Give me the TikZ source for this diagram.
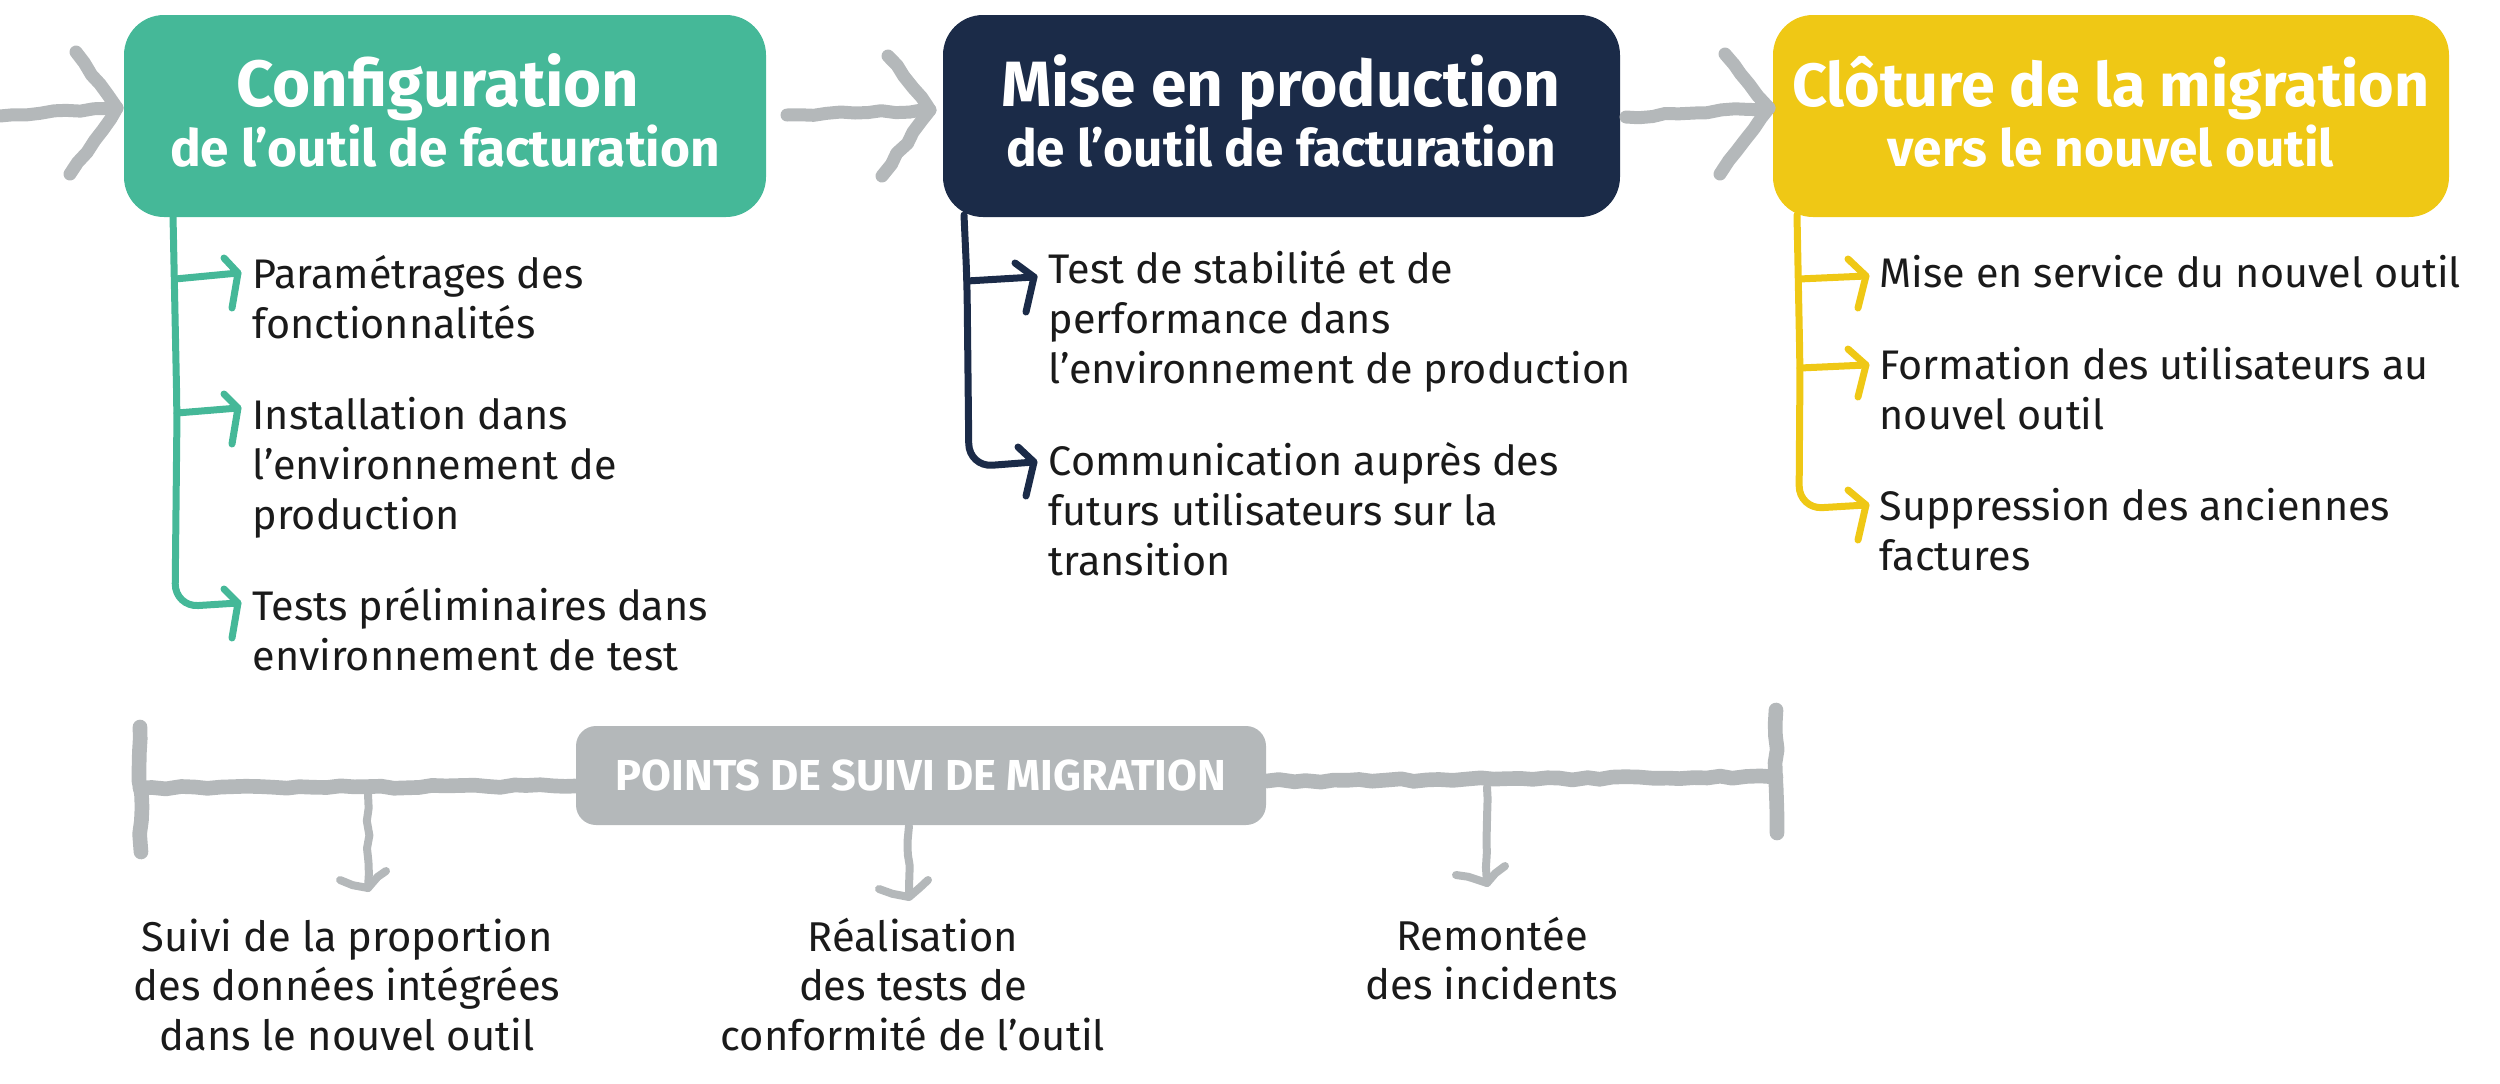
\documentclass[tikz,border=0pt]{standalone}
\usepackage{fontspec}
\setmainfont{Fira Sans}
\usetikzlibrary{decorations.pathmorphing}
\definecolor{cgreen}{HTML}{45B898}
\definecolor{cnavy}{HTML}{1B2B48}
\definecolor{cyellow}{HTML}{EFC815}
\definecolor{cgray}{HTML}{B4B8BA}
\definecolor{ink}{HTML}{1A1A1A}
\begin{document}
\begin{tikzpicture}[x=0.3pt,y=-0.3pt,
  phasebox/.style={rectangle, rounded corners=12pt, inner sep=0pt, minimum height=60.6pt},
  headA/.style={font=\fontsize{19.6}{24}\selectfont\bfseries, text=white, inner sep=0pt, anchor=base},
  headB/.style={font=\fontsize{15.4}{19}\selectfont\bfseries, text=white, inner sep=0pt, anchor=base},
  itemtext/.style={font=\fontsize{12.4}{15}\selectfont, text=ink, inner sep=0pt, anchor=base west},
  lowtext/.style={font=\fontsize{12.5}{14.9}\selectfont, text=ink, inner sep=0pt, anchor=base},
  roughline/.style={line cap=round, line join=round, decorate,
     decoration={random steps, segment length=4pt, amplitude=0.45pt}},
  grayarrow/.style={roughline, line width=3.9pt, draw=cgray},
  bar/.style={roughline, line width=4.4pt, draw=cgray},
  downarrow/.style={roughline, line width=2.4pt, draw=cgray},
  branch/.style={line width=2.1pt, line cap=round, line join=round},
]
\pgfmathsetseed{7}
\useasboundingbox (0,0) rectangle (2500,1084);

% ---------- phase boxes ----------
\node[phasebox, fill=cgreen, minimum width=192.6pt] (b1) at (445,116) {};
\node[phasebox, fill=cnavy, minimum width=203.1pt] (b2) at (1281.5,116) {};
\node[phasebox, fill=cyellow, minimum width=202.8pt] (b3) at (2111,116) {};

\node[headA] (b1a) at (438,106) {Configuration};
\node[headB] (b1b) at (445,166) {de l’outil de facturation};
\node[headA, font=\fontsize{19.2}{24}\selectfont\bfseries] (b2a) at (1281,106) {Mise en production};
\node[headB] (b2b) at (1281,166) {de l’outil de facturation};
\node[headA, font=\fontsize{18.3}{24}\selectfont\bfseries] (b3a) at (2111,106) {Clôture de la migration};
\node[headB] (b3b) at (2111,166) {vers le nouvel outil};

% ---------- top gray arrows ----------
\coordinate (a0s) at (0,116);   \coordinate (a0t) at (117,108);
\coordinate (a0u) at (76,52);   \coordinate (a0d) at (70,174);
\coordinate (a1s) at (787,115); \coordinate (a1m) at (855,113); \coordinate (a1t) at (930,110);
\coordinate (a1u) at (888,56);  \coordinate (a1d) at (882,176);
\coordinate (a2s) at (1626,117); \coordinate (a2m) at (1695,113); \coordinate (a2t) at (1769,108);
\coordinate (a2u) at (1725,54); \coordinate (a2d) at (1720,174);
\draw[grayarrow] (a0s) -- (a0t);
\draw[grayarrow] (a0u) -- (a0t) -- (a0d);
\draw[grayarrow] (a1s) -- (a1m) -- (a1t);
\draw[grayarrow] (a1u) -- (a1t) -- (a1d);
\draw[grayarrow] (a2s) -- (a2m) -- (a2t);
\draw[grayarrow] (a2u) -- (a2t) -- (a2d);

% ---------- branches of box 1 ----------
\begin{scope}[draw=cgreen]
\coordinate (g0) at (173,215);
\coordinate (g1) at (175,279); \coordinate (g1t) at (238,273);
\coordinate (g2) at (177,413); \coordinate (g2t) at (238,408);
\coordinate (g3) at (175,607); \coordinate (g3t) at (238,603);
\draw[branch, rounded corners=7pt] (g0) -- (g2) -- (g3) -- (g3t);
\draw[branch] (g1) -- (g1t);
\draw[branch] (g2) -- (g2t);
\draw[branch] (224,258) -- (g1t) -- (232,308);
\draw[branch] (224,394) -- (g2t) -- (232,444);
\draw[branch] (224,589) -- (g3t) -- (232,638);
\end{scope}

% ---------- branches of box 2 ----------
\begin{scope}[draw=cnavy]
\coordinate (n0) at (964,215);
\coordinate (n1) at (967,281); \coordinate (n1t) at (1034,277);
\coordinate (n2) at (969,467); \coordinate (n2t) at (1034,462);
\draw[branch, rounded corners=7pt] (n0) -- (n1) -- (n2) -- (n2t);
\draw[branch] (n1) -- (n1t);
\draw[branch] (1015,263) -- (n1t) -- (1026,312);
\draw[branch] (1018,447) -- (n2t) -- (1026,496);
\end{scope}

% ---------- branches of box 3 ----------
\begin{scope}[draw=cyellow]
\coordinate (y0) at (1797,215);
\coordinate (y1) at (1799,279); \coordinate (y1t) at (1866,276);
\coordinate (y2) at (1800,368); \coordinate (y2t) at (1866,365);
\coordinate (y3) at (1799,509); \coordinate (y3t) at (1866,505);
\draw[branch, rounded corners=7pt] (y0) -- (y2) -- (y3) -- (y3t);
\draw[branch] (y1) -- (y1t);
\draw[branch] (y2) -- (y2t);
\draw[branch] (1848,259) -- (y1t) -- (1858,308);
\draw[branch] (1848,349) -- (y2t) -- (1858,397);
\draw[branch] (1848,490) -- (y3t) -- (1858,540);
\end{scope}

% ---------- item texts ----------
\node[itemtext] (t11) at (252,288) {\parbox[t]{300pt}{Paramétrages des\\fonctionnalités}};
\node[itemtext] (t12) at (252,429) {\parbox[t]{300pt}{Installation dans\\l’environnement de\\production}};
\node[itemtext] (t13) at (252,620) {\parbox[t]{300pt}{Tests préliminaires dans\\environnement de test}};

\node[itemtext] (t21) at (1048,283) {\parbox[t]{300pt}{Test de stabilité et de\\performance dans\\l’environnement de production}};
\node[itemtext] (t22) at (1048,475) {\parbox[t]{300pt}{Communication auprès des\\futurs utilisateurs sur la\\transition}};

\node[itemtext] (t31) at (1879,287) {\parbox[t]{300pt}{Mise en service du nouvel outil}};
\node[itemtext] (t32) at (1879,379) {\parbox[t]{300pt}{Formation des utilisateurs au\\nouvel outil}};
\node[itemtext] (t33) at (1879,520) {\parbox[t]{300pt}{Suppression des anciennes\\factures}};

% ---------- timeline ----------
\node[rectangle, rounded corners=6pt, fill=cgray, inner sep=0pt, minimum width=207pt, minimum height=29.7pt,
      text=white, font=\fontsize{13}{15}\selectfont\bfseries] (pts) at (921,775.5) {POINTS DE SUIVI DE MIGRATION};

\coordinate (lt) at (140,727); \coordinate (lb) at (141,852);
\coordinate (rt) at (1776,710); \coordinate (rb) at (1777,833);
\coordinate (lm) at (140,788); \coordinate (rm) at (1776,777);
\draw[bar] (lt) -- (lb);
\draw[bar] (rt) -- (rb);
\draw[bar] (lm) -- (pts.west |- 0,786);
\draw[bar] (pts.east |- 0,781) -- (rm);

\coordinate (d1s) at (368,794); \coordinate (d1t) at (368,888);
\coordinate (d2s) at (909,826); \coordinate (d2t) at (909,897);
\coordinate (d3s) at (1487,787); \coordinate (d3t) at (1487,883);
\draw[downarrow] (d1s) -- (d1t);
\draw[downarrow] (340,880) -- (d1t) -- (386,871);
\draw[downarrow] (d2s) -- (d2t);
\draw[downarrow] (879,889) -- (d2t) -- (928,880);
\draw[downarrow] (d3s) -- (d3t);
\draw[downarrow] (1456,875) -- (d3t) -- (1505,866);

\node[lowtext] (l1) at (347,951) {\parbox[t]{250pt}{\centering Suivi de la proportion\\des données intégrées\\dans le nouvel outil}};
\node[lowtext] (l2) at (913,951) {\parbox[t]{250pt}{\centering Réalisation\\des tests de\\conformité de l’outil}};
\node[lowtext] (l3) at (1492,950) {\parbox[t]{250pt}{\centering Remontée\\des incidents}};
\end{tikzpicture}
\end{document}
